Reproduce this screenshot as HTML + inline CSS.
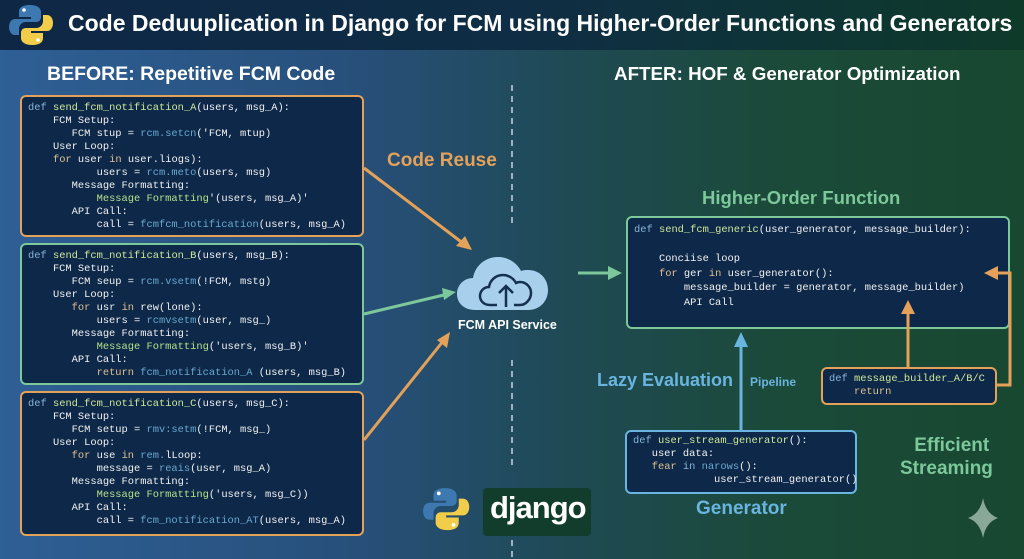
<!DOCTYPE html>
<html><head><meta charset="utf-8"><style>
*{margin:0;padding:0;box-sizing:border-box}
body{width:1024px;height:559px;overflow:hidden;position:relative;font-family:"Liberation Sans",sans-serif;
background:linear-gradient(90deg,#2e5f95 0%,#274f7a 35%,#1f4a55 55%,#1b4a3a 75%,#184830 100%);}
.title{position:absolute;left:0;top:0;width:1024px;height:50px;background:linear-gradient(90deg,#0e2745,#0f2d45 50%,#0e3a2a);}
.abs{position:absolute;white-space:nowrap}
.code{position:absolute;background:#0d2848;border-radius:6px;font-family:"Liberation Mono",monospace;font-size:10.4px;line-height:13px;color:#f2f2f2;white-space:pre;padding:5px 6px;}
.o{border:2.5px solid #e3a15a}
.g{border:2.5px solid #7cc89a}
.b{border:2.5px solid #6ab4e0}
.k{color:#8ab4d8}.f{color:#cfe89a}.m{color:#6aa8d0}.s{color:#b8e08a}.y{color:#e0c090}
</style></head><body>
<div class="title"></div>
<svg class="abs" style="left:8px;top:3px" width="46" height="44" viewBox="0 0 46 44">
<path d="M22 2c-8 0-11 3-11 7v5h12v2H7c-4 0-6 4-6 8s2 8 6 8h4v-6c0-4 3-7 7-7h10c3 0 5-2 5-5V9c0-4-4-7-11-7z" fill="#3d79b0"/>
<path d="M24 42c8 0 11-3 11-7v-5H23v-2h16c4 0 6-4 6-8s-2-8-6-8h-4v6c0 4-3 7-7 7H18c-3 0-5 2-5 5v5c0 4 4 7 11 7z" fill="#f2cd4a"/>
<circle cx="16" cy="7" r="1.8" fill="#fff"/><circle cx="30" cy="37" r="1.8" fill="#fff"/></svg>
<div class="abs" style="left:68px;top:10px;font-size:23px;font-weight:bold;color:#fff">Code Deduuplication in Django for FCM using Higher-Order Functions and Generators</div>
<div class="abs" style="left:47px;top:63px;font-size:19.5px;font-weight:bold;color:#fff">BEFORE: Repetitive FCM Code</div>
<div class="abs" style="left:614px;top:63px;font-size:18.8px;font-weight:bold;color:#fff">AFTER: HOF &amp; Generator Optimization</div>

<div class="abs" style="left:483px;top:488px;width:108px;height:48px;background:#123d2c;border-radius:4px"></div>
<div class="abs" style="left:490px;top:490px;font-size:31px;font-weight:bold;color:#fff;letter-spacing:-1px">django</div>

<div class="abs" style="left:387px;top:150px;font-size:19px;font-weight:bold;color:#e3a15a">Code Reuse</div>
<div class="abs" style="left:458px;top:318px;font-size:12.5px;font-weight:bold;color:#fff">FCM API Service</div>
<div class="abs" style="left:702px;top:187px;font-size:18.5px;font-weight:bold;color:#7cc89a">Higher-Order Function</div>
<div class="abs" style="left:597px;top:370px;font-size:18px;font-weight:bold;color:#6ab4e0">Lazy Evaluation</div>
<div class="abs" style="left:750px;top:375px;font-size:12px;font-weight:bold;color:#6ab4e0">Pipeline</div>
<div class="abs" style="left:696px;top:498px;font-size:19px;font-weight:bold;color:#6ab4e0">Generator</div>
<div class="abs" style="left:900px;top:434px;font-size:19px;font-weight:bold;color:#7cc89a;text-align:center;line-height:23px">&nbsp;&nbsp;Efficient<br>Streaming</div>

<div class="code o" style="left:20px;top:95px;width:344px;height:142px"><span class="k">def</span> <span class="f">send_fcm_notification_A</span>(users, msg_A):
    FCM Setup:
       FCM stup = <span class="m">rcm.setcn</span>('FCM, mtup)
    User Loop:
    <span class="y">for</span> user <span class="y">in</span> user.liogs):
           users = <span class="m">rcm.meto</span>(users, msg)
       Message Formatting:
           <span class="s">Message Formatting</span>'(users, msg_A)'
       API Call:
           call = <span class="m">fcmfcm_notification</span>(users, msg_A)</div>
<div class="code g" style="left:20px;top:243px;width:344px;height:142px"><span class="k">def</span> <span class="f">send_fcm_notification_B</span>(users, msg_B):
    FCM Setup:
       FCM seup = <span class="m">rcm.vsetm</span>(!FCM, mstg)
    User Loop:
       <span class="y">for</span> usr <span class="y">in</span> rew(lone):
           users = <span class="m">rcmvsetm</span>(user, msg_)
       Message Formatting:
           <span class="s">Message Formatting</span>('users, msg_B)'
       API Call:
           <span class="y">return</span> <span class="m">fcm_notification_A</span> (users, msg_B)</div>
<div class="code o" style="left:20px;top:391px;width:344px;height:145px"><span class="k">def</span> <span class="f">send_fcm_notification_C</span>(users, msg_C):
    FCM Setup:
       FCM setup = <span class="m">rmv:setm</span>(!FCM, msg_)
    User Loop:
       <span class="y">for</span> use <span class="y">in</span> <span class="m">rem.</span>lLoop:
           message = <span class="m">reais</span>(user, msg_A)
       Message Formatting:
           <span class="s">Message Formatting</span>('users, msg_C))
       API Call:
           call = <span class="m">fcm_notification_AT</span>(users, msg_A)</div>

<div class="code g" style="left:626px;top:216px;width:384px;height:113px;line-height:14.5px"><span class="k">def</span> <span class="f">send_fcm_generic</span>(user_generator, message_builder):

    Conciise loop
    <span class="y">for</span> ger <span class="y">in</span> user_generator():
        message_builder = generator, message_builder)
        API Call</div>
<div class="code o" style="left:821px;top:367px;width:176px;height:38px;padding-top:4px"><span class="k">def</span> <span class="f">message_builder_A/B/C</span>
    <span class="y">return</span></div>
<div class="code b" style="left:625px;top:430px;width:232px;height:64px;padding-top:3px"><span class="k">def</span> <span class="f">user_stream_generator</span>():
   user data:
   <span class="y">fear</span> <span class="k">in</span> <span class="m">narows</span>():
             user_stream_generator()</div>

<svg class="abs" style="left:0;top:0" width="1024" height="559">
<line x1="512" y1="85" x2="512" y2="225" stroke="#c8d4dc" stroke-width="1.5" stroke-dasharray="6 5"/>
<line x1="512" y1="360" x2="512" y2="470" stroke="#c8d4dc" stroke-width="1.5" stroke-dasharray="6 5"/>
<line x1="512" y1="540" x2="512" y2="559" stroke="#c8d4dc" stroke-width="1.5" stroke-dasharray="6 5"/>
<line x1="364" y1="168" x2="464" y2="244" stroke="#e3a15a" stroke-width="3"/>
<path d="M472 250L456 246L465 236z" fill="#e3a15a"/>
<line x1="364" y1="314" x2="448" y2="294" stroke="#7cc89a" stroke-width="3"/>
<path d="M456 292L444 300L442 288z" fill="#7cc89a"/>
<line x1="364" y1="440" x2="444" y2="340" stroke="#e3a15a" stroke-width="3"/>
<path d="M450 332L447 348L437 340z" fill="#e3a15a"/>
<line x1="578" y1="273" x2="610" y2="273" stroke="#7cc89a" stroke-width="3"/>
<path d="M622 273L608 266L608 280z" fill="#7cc89a"/>
<path d="M475 310c-11 0-18-7-18-16s7-16 16-16c2-12 12-21 25-21c10 0 19 6 23 14c3-1 5-1 7-1c12 0 20 9 20 20s-8 20-20 20z" fill="#a8d0ec"/>
<path d="M497 305h-7c-6 0-10-4-10-9s4-9 9-9c1-7 7-12 14-12c6 0 11 4 13 8c2-1 3-1 4-1c6 0 11 5 11 11s-5 12-11 12h-6" fill="none" stroke="#14324f" stroke-width="2.5"/>
<path d="M506 307V286M499 293l7-7l7 7" fill="none" stroke="#14324f" stroke-width="2.5"/>
<line x1="741" y1="430" x2="741" y2="345" stroke="#6ab4e0" stroke-width="3"/>
<path d="M741 332L734 347L748 347z" fill="#6ab4e0"/>
<polyline points="908,367 908,312" fill="none" stroke="#e3a15a" stroke-width="3"/>
<path d="M908 300L901 314L915 314z" fill="#e3a15a"/>
<polyline points="997,385 1010,385 1010,273 998,273" fill="none" stroke="#e3a15a" stroke-width="3"/>
<path d="M984 273L998 266L998 280z" fill="#e3a15a"/>
<path d="M983 498Q986 514 998 518Q986 522 983 538Q980 522 968 518Q980 514 983 498z" fill="#8aa898"/>
<g transform="translate(422,486) scale(1.05)">
<path d="M22 2c-8 0-11 3-11 7v5h12v2H7c-4 0-6 4-6 8s2 8 6 8h4v-6c0-4 3-7 7-7h10c3 0 5-2 5-5V9c0-4-4-7-11-7z" fill="#3d79b0"/>
<path d="M24 42c8 0 11-3 11-7v-5H23v-2h16c4 0 6-4 6-8s-2-8-6-8h-4v6c0 4-3 7-7 7H18c-3 0-5 2-5 5v5c0 4 4 7 11 7z" fill="#f2cd4a"/>
<circle cx="16" cy="7" r="1.8" fill="#fff"/><circle cx="30" cy="37" r="1.8" fill="#fff"/></g>
</svg>
</body></html>
